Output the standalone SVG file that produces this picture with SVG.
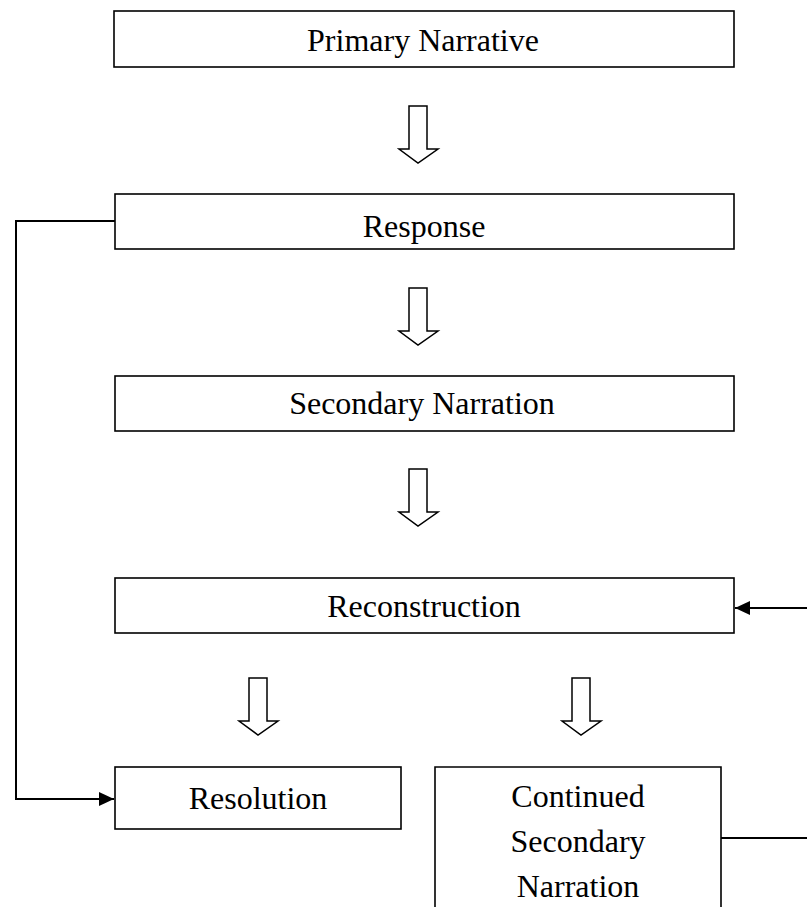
<svg xmlns="http://www.w3.org/2000/svg" width="807" height="907" viewBox="0 0 807 907">
  <style>
    .box { fill: #ffffff; stroke: #000000; stroke-width: 1.6; }
    .label { font-size: 32px; fill: #000000; text-anchor: middle; }
    .flow { fill: #ffffff; stroke: #000000; stroke-width: 1.5; stroke-linejoin: miter; }
    .link { fill: none; stroke: #000000; stroke-width: 2; }
  </style>
  <defs>
    <marker id="head" viewBox="0 0 15 14" refX="15" refY="7" markerWidth="15" markerHeight="14" markerUnits="userSpaceOnUse" orient="auto">
      <path d="M0,0 L15,7 L0,14 Z" fill="#000000"/>
    </marker>
    <!-- hollow block arrow pointing down, origin at top-left of shaft -->
    <path id="downArrow" class="flow" d="M0,0 H18 V43 H29 L9,57 L-10,43 H0 Z"/>
  </defs>

  <rect width="807" height="907" fill="#ffffff"/>

  <g id="connectors">
    <!-- Response back down to Resolution -->
    <path class="link" d="M115,221 H16 V799 H114" marker-end="url(#head)"/>
    <!-- Continued Secondary Narration feeding back into Reconstruction -->
    <path class="link" d="M721,838 H807"/>
    <path class="link" d="M807,608 H735" marker-end="url(#head)"/>
    <!-- block arrows -->
    <use href="#downArrow" x="409" y="106"/>
    <use href="#downArrow" x="409" y="288"/>
    <use href="#downArrow" x="409" y="469"/>
    <use href="#downArrow" x="249" y="678"/>
    <use href="#downArrow" x="572" y="678"/>
  </g>

  <g font-family="Liberation Serif, Times New Roman, DejaVu Serif, serif">
    <g id="primary-narrative">
      <rect class="box" x="114" y="11" width="620" height="56"/>
      <text class="label" x="423" y="51">Primary Narrative</text>
    </g>

    <g id="response">
      <rect class="box" x="115" y="194" width="619" height="55"/>
      <text class="label" x="424" y="237">Response</text>
    </g>

    <g id="secondary-narration">
      <rect class="box" x="115" y="376" width="619" height="55"/>
      <text class="label" x="422" y="414">Secondary Narration</text>
    </g>

    <g id="reconstruction">
      <rect class="box" x="115" y="578" width="619" height="55"/>
      <text class="label" x="424" y="617">Reconstruction</text>
    </g>

    <g id="resolution">
      <rect class="box" x="115" y="767" width="286" height="62"/>
      <text class="label" x="258" y="809">Resolution</text>
    </g>

    <g id="continued-secondary-narration">
      <path class="box" d="M435,910 V767 H721 V910"/>
      <text class="label" x="578" y="807">Continued</text>
      <text class="label" x="578" y="852">Secondary</text>
      <text class="label" x="578" y="897">Narration</text>
    </g>
  </g>
</svg>
